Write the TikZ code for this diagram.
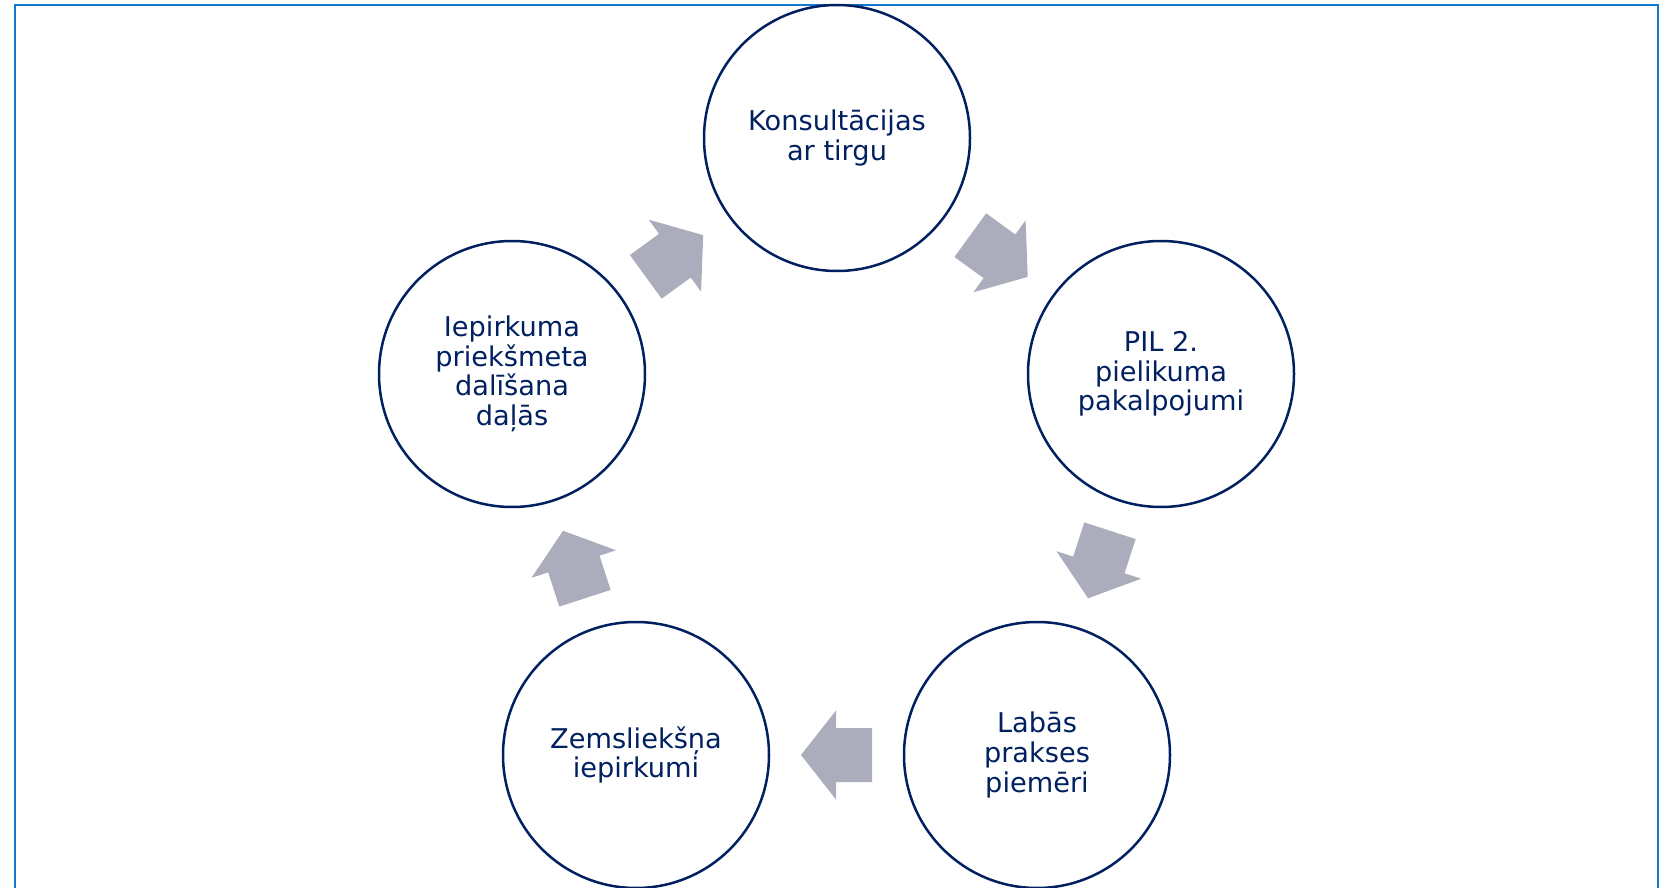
\documentclass[tikz,border=0pt]{standalone}
\usepackage{fontspec}
\setmainfont{DejaVu Sans}
\usetikzlibrary{calc}
\definecolor{Navy}{RGB}{0,32,96}
\definecolor{Frame}{RGB}{20,120,205}
\definecolor{Grey}{RGB}{171,173,189}

\tikzset{
	stage/.style={circle, draw=Navy, line width=1.25pt, minimum size=133pt, inner sep=0pt, align=center, text=Navy, font=\fontsize{13.6}{14.8}\selectfont},
	blockarrow/.style={fill=Grey}
}

% block arrow half way between two stages
\newcommand{\cyclearrow}[3]{%
	\coordinate (#1#2) at ($(#1)!0.5!(#2)$);
	\fill[blockarrow, shift={(#1#2)}, rotate=#3] (-35.5,-27) -- (0.5,-27) -- (0.5,-44.5) -- (35.5,0) -- (0.5,44.5) -- (0.5,27) -- (-35.5,27) -- cycle;
}

\begin{document}
\begin{tikzpicture}[x=0.5pt, y=-0.5pt]
		
		\useasboundingbox (0,0) rectangle (1667,888);
		
		% Frame
		\draw[Frame, line width=1pt] (15,888) -- (15,5) -- (1658,5) -- (1658,888);
		
		% Stages
		\node[stage] (top)   at (837,138)  {Konsultācijas\\ar tirgu};
		\node[stage] (right) at (1161,374) {PIL 2.\\pielikuma\\pakalpojumi};
		\node[stage] (lowr)  at (1037,755) {Labās\\prakses\\piemēri};
		\node[stage] (lowl)  at (636,755)  {Zemsliekšņa\\iepirkumi};
		\node[stage] (left)  at (512,374)  {Iepirkuma\\priekšmeta\\dalīšana\\daļās};
		
		% Arrows
		\cyclearrow{top}{right}{-36}
		\cyclearrow{right}{lowr}{-108}
		\cyclearrow{lowr}{lowl}{180}
		\cyclearrow{lowl}{left}{108}
		\cyclearrow{left}{top}{36}
		
	\end{tikzpicture}
\end{document}
